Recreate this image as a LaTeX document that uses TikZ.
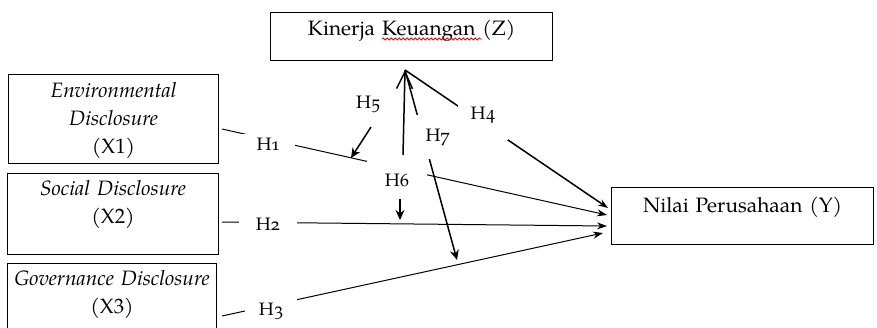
\documentclass[tikz,border=0pt]{standalone}
\usepackage{fontspec}
\setmainfont{texgyrepagella}[Extension=.otf, UprightFont=*-regular,
  ItalicFont=*-italic, BoldFont=*-bold, BoldItalicFont=*-bolditalic]
\newfontfamily\hypfont{texgyrepagella}[Extension=.otf,
  UprightFont=*-regular, Numbers=OldStyle]
\usepackage{tikz}
\usetikzlibrary{arrows.meta}
\usetikzlibrary{backgrounds}
\usetikzlibrary{decorations.pathmorphing}

\begin{document}
\begin{tikzpicture}[x=0.5pt, y=-0.5pt]
	\tikzstyle{var}=[draw, line width=0.6pt, inner sep=0pt, anchor=north west,
	                  align=center, font=\fontsize{10.4}{14}\selectfont];
	\tikzstyle{hyp}=[fill=white, inner sep=0pt, font=\hypfont\small];
	\tikzstyle{rel}=[line width=0.5pt, -{Stealth[length=5pt, width=3.5pt]}];
	\tikzstyle{mod}=[line width=0.75pt, -{Stealth[length=5pt, width=4.5pt]}];
	\useasboundingbox (0,0) rectangle (877,327);
	% variables
	\node[var, text width=141pt, text height=11.5pt, text depth=12.5pt] (z) at (270,12)
		{Kinerja Keuangan (Z)};
	\node[var, text width=131pt, text height=12.5pt, text depth=16pt] (y) at (611,187)
		{Nilai Perusahaan (Y)};
	\node[var, text width=105pt, text height=11.5pt, text depth=33pt] (x1) at (8,74)
		{\textit{Environmental}\\\textit{Disclosure}\\(X1)};
	\node[var, text width=105.5pt, text height=11pt, text depth=29.5pt] (x2) at (7,173)
		{\textit{Social Disclosure}\\(X2)};
	\node[var, text width=104.5pt, text height=11pt, text depth=25.5pt] (x3) at (7,263)
		{\textit{Governance Disclosure}\\(X3)};
	\draw[red, line width=0.4pt, decorate,
	      decoration={snake, amplitude=0.5pt, segment length=2pt}] (382,39) -- (482,39);
	% hypotheses
	\foreach \i/\x/\y/\w/\h in {1/268/144/27/10, 2/268/224/29/8, 3/271/311/26/13,
	                            4/483/115/25/25, 5/368/104/1/1, 6/397/180/30/19,
	                            7/438/137/22/22}
	{\node[hyp, minimum width=\w pt, minimum height=\h pt] (h\i) at (\x,\y) {H\i};}
	\foreach \n/\x/\y in {a1/222/129, a2/222/222, a3/222/316,
	                      t1/607/215, t2/607/226, t3/603/233, t4/608/208,
	                      zp/405/70, s5/371/127, t5/351/158,
	                      s6/403/155, u6/400/199, t6/400/220, t7/457/260}
	{\coordinate (\n) at (\x,\y);}
	\begin{scope}[on background layer]
	\draw[rel] (a1) -- (t1);
	\draw[rel] (a2) -- (t2);
	\draw[rel] (a3) -- (t3);
	\draw[rel, line width=0.75pt] (zp) -- (t4);
	\draw[mod] (zp) -- (t7);
	\draw[mod] (s5) -- (t5);
	\draw[mod] (u6) -- (t6);
	\draw[line width=0.75pt, -{Straight Barb[length=8.5pt, width=8pt]}] (s6) -- (zp);
	\end{scope}
\end{tikzpicture}
\end{document}
